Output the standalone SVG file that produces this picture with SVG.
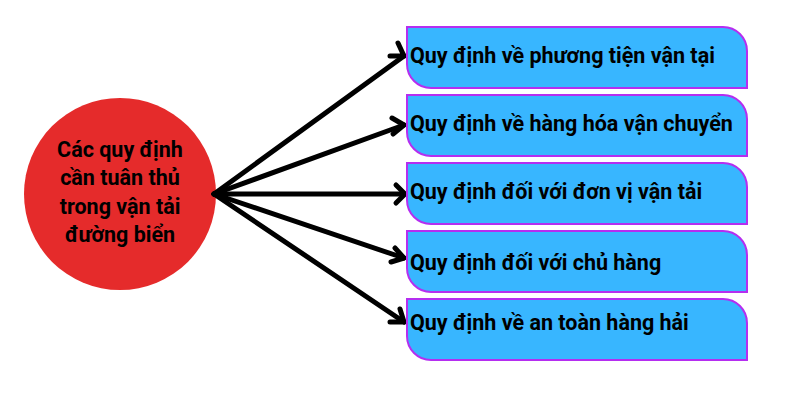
<svg xmlns="http://www.w3.org/2000/svg" width="800" height="400" viewBox="0 0 800 400">
<style>
.box{fill:#38b6ff;stroke:#b52ef0;stroke-width:2}
.lbl{font-family:Roboto,"Noto Sans",sans-serif;font-weight:bold;font-size:21.5px;fill:#000}
.conn{stroke:#000;stroke-width:5;fill:none;stroke-linecap:round}
.head{stroke:#000;stroke-width:5;fill:none;stroke-linecap:round;stroke-linejoin:round}
</style>
<rect width="800" height="400" fill="#fff"/>
<g id="center">
<circle cx="120" cy="194" r="96" fill="#e52b2b"/>
<text class="lbl" text-anchor="middle" x="120"><tspan x="120" y="157">Các quy định</tspan><tspan x="120" y="185">cần tuân thủ</tspan><tspan x="120" y="214">trong vận tải</tspan><tspan x="120" y="242">đường biển</tspan></text>
</g>
<g id="connectors">
<path class="conn" d="M214 194 L404 56"/>
<path class="head" d="M390 56 L404 56 L398 43"/>
<path class="conn" d="M214 194 L404 125"/>
<path class="head" d="M392 118 L404 125 L393 134"/>
<path class="conn" d="M214 194 L404 194"/>
<path class="head" d="M396 185 L405 194 L396 203"/>
<path class="conn" d="M214 194 L404 258"/>
<path class="head" d="M395 248 L404 258 L391 262"/>
<path class="conn" d="M214 194 L404 322"/>
<path class="head" d="M400 309 L404 322 L390 322"/>
</g>
<g id="n1">
<path class="box" d="M407 27 H723 A24 24 0 0 1 747 51 V88 H431 A24 24 0 0 1 407 64 Z"/>
<text class="lbl" x="410" y="63">Quy định về phương tiện vận tại</text>
</g>
<g id="n2">
<path class="box" d="M407 95 H723 A24 24 0 0 1 747 119 V156 H431 A24 24 0 0 1 407 132 Z"/>
<text class="lbl" x="410" y="131">Quy định về hàng hóa vận chuyển</text>
</g>
<g id="n3">
<path class="box" d="M407 163 H723 A24 24 0 0 1 747 187 V224 H431 A24 24 0 0 1 407 200 Z"/>
<text class="lbl" x="410" y="199">Quy định đối với đơn vị vận tải</text>
</g>
<g id="n4">
<path class="box" d="M407 231 H723 A24 24 0 0 1 747 255 V292 H431 A24 24 0 0 1 407 268 Z"/>
<text class="lbl" x="410" y="270">Quy định đối với chủ hàng</text>
</g>
<g id="n5">
<path class="box" d="M407 299 H723 A24 24 0 0 1 747 323 V360 H431 A24 24 0 0 1 407 336 Z"/>
<text class="lbl" x="410" y="330">Quy định về an toàn hàng hải</text>
</g>
</svg>
